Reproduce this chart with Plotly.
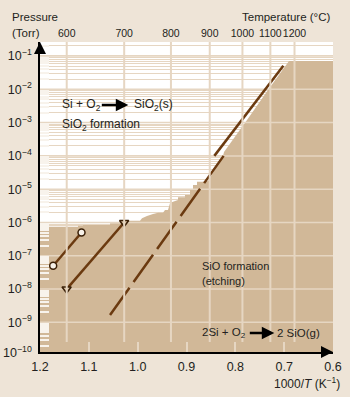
import plotly.graph_objects as go

# ---------------- data ----------------
x_tickvals = [1.2, 1.1, 1.0, 0.9, 0.8, 0.7, 0.6]
x_ticktext = ["1.2", "1.1", "1.0", "0.9", "0.8", "0.7", "0.6"]
temps_c = [600, 700, 800, 900, 1000, 1100, 1200]
decade_exponents = [-1, -2, -3, -4, -5, -6, -7, -8, -9]

# SiO2 / SiO phase boundary (1000/T, log10 of pressure in Torr)
boundary_x = [1.2000, 1.1816, 1.1816, 1.1222, 1.1222, 1.1120, 1.1120, 1.0566, 1.0566,
              1.0362, 1.0362, 1.0218, 1.0218, 0.9952, 0.9911, 0.9809, 0.9686, 0.9583,
              0.9481, 0.9440, 0.9379, 0.9338, 0.9276, 0.9174, 0.9174, 0.9031, 0.9031,
              0.8928, 0.8928, 0.8867, 0.8867, 0.8785, 0.8785, 0.8682, 0.8559, 0.8252,
              0.8232, 0.7761, 0.7331, 0.6901, 0.6000, 0.6000, 1.2000]
boundary_log10_p = [-6.045, -6.045, -6.126, -6.126, -6.096, -6.096, -6.075, -6.075, -6.024,
                    -6.024, -5.985, -5.985, -5.946, -5.946, -5.874, -5.805, -5.745, -5.706,
                    -5.706, -5.625, -5.625, -5.423, -5.375, -5.324, -5.243, -5.243, -5.174,
                    -5.174, -5.024, -5.024, -4.874, -4.874, -4.775, -4.775, -4.754, -4.003,
                    -3.883, -2.922, -2.021, -1.150, -1.150, -11.0, -11.0]

circle_x = [1.173, 1.115]
circle_p = [5.0e-8, 5.0e-7]
triangle_x = [1.1455, 1.0277]
triangle_p = [1.0e-8, 1.0e-6]
dashed_x = [1.0566, 0.8240]
dashed_p = [1.67e-9, 1.0e-4]
upper_x = [0.8430, 0.7017]
upper_p = [1.0e-4, 5.1e-2]

# ---------------- style ----------------
FONT = "Liberation Sans, Arial, sans-serif"
TXT = "#231f20"
PAPER = "#EEE4D7"
TAN = "#D1B898"
GRID = "#E6D6C2"
BROWN = "#6B3A10"
Y_RANGE = [-9.89, -0.58]
X_RANGE = [1.2, 0.6]

minor_vals = []
for e in decade_exponents + [-10]:
    for m in range(2, 10):
        minor_vals.append(m * 10.0 ** e)

fig = go.Figure()

# tan region (SiO formation)
fig.add_trace(go.Scatter(
    x=boundary_x, y=[10 ** v for v in boundary_log10_p],
    fill="toself", fillcolor=TAN, mode="none", hoverinfo="skip", showlegend=False))

# decade grid lines above the tan fill
gx, gy = [], []
for e in decade_exponents:
    gx += [X_RANGE[0], X_RANGE[1], None]
    gy += [10.0 ** e, 10.0 ** e, None]
fig.add_trace(go.Scatter(x=gx, y=gy, mode="lines", line=dict(color=GRID, width=1.5),
                         hoverinfo="skip", showlegend=False))

# temperature grid lines (on top axis)
temp_x = [1000.0 / (t + 273.15) for t in temps_c]
y_lo = 10 ** (Y_RANGE[0] + 10 / 310 * (Y_RANGE[1] - Y_RANGE[0]))
vx, vy = [], []
for xv in temp_x:
    vx += [xv, xv, None]
    vy += [y_lo, 10.0, None]
fig.add_trace(go.Scatter(x=vx, y=vy, xaxis="x2", mode="lines",
                         line=dict(color=GRID, width=2), hoverinfo="skip", showlegend=False))

# data lines
fig.add_trace(go.Scatter(x=dashed_x, y=dashed_p, mode="lines",
                         line=dict(color=BROWN, width=2.5, dash="33.5px,7px"),
                         hoverinfo="skip", showlegend=False))
fig.add_trace(go.Scatter(x=upper_x, y=upper_p, mode="lines",
                         line=dict(color=BROWN, width=2.5),
                         hoverinfo="skip", showlegend=False))
fig.add_trace(go.Scatter(x=triangle_x, y=triangle_p, mode="lines+markers",
                         line=dict(color=BROWN, width=2.5),
                         marker=dict(symbol="triangle-down", size=8, color="#D9C3A5",
                                     line=dict(color="#3a2008", width=1.5)),
                         hoverinfo="skip", showlegend=False))
fig.add_trace(go.Scatter(x=circle_x, y=circle_p, mode="lines+markers",
                         line=dict(color=BROWN, width=2.5),
                         marker=dict(symbol="circle", size=7, color="#F7F1E8",
                                     line=dict(color="#3a2008", width=1.5)),
                         hoverinfo="skip", showlegend=False))

y_tickvals = [10.0 ** e for e in decade_exponents]
y_ticktext = ["10<sup>\u2212%d</sup>" % (-e) for e in decade_exponents]

fig.update_layout(
    width=350, height=397,
    margin=dict(l=40, r=17, t=42, b=45, pad=0),
    paper_bgcolor=PAPER, plot_bgcolor="white",
    font=dict(family=FONT, color=TXT, size=12),
    xaxis=dict(range=X_RANGE, tickvals=x_tickvals, ticktext=x_ticktext, ticks="",
               showgrid=False, zeroline=False, showline=True, linecolor="black",
               linewidth=1.5, tickfont=dict(size=12.5, family=FONT, color=TXT),
               ticklabelstandoff=2, automargin=False, tickangle=0,
               minor=dict(tickmode="array", tickvals=[1.1, 1.0, 0.9, 0.8, 0.7],
                          ticks="inside", ticklen=10, tickcolor=GRID, tickwidth=1.5,
                          showgrid=False)),
    xaxis2=dict(range=X_RANGE, overlaying="x", side="top", tickvals=temp_x,
                ticktext=[str(t) for t in temps_c], ticks="", showgrid=False,
                showline=False, zeroline=False, automargin=False, tickangle=0,
                ticklabelstandoff=2,
                tickfont=dict(size=10.5, family=FONT, color=TXT)),
    yaxis=dict(type="log", range=Y_RANGE, tickvals=y_tickvals, ticktext=y_ticktext,
               ticks="", showgrid=True, gridcolor=GRID, gridwidth=1,
               showline=True, linecolor="black", linewidth=1.5, zeroline=False,
               automargin=False,
               tickfont=dict(size=12.5, family=FONT, color=TXT), ticklabelstandoff=4,
               minor=dict(tickmode="array", tickvals=minor_vals, ticks="inside",
                          ticklen=9, tickcolor="#F8F3EC", tickwidth=1.5,
                          showgrid=True, gridcolor=GRID, gridwidth=1)),
)

ann = []
def txt(x, y, s, xa="left", size=12):
    ann.append(dict(xref="paper", yref="paper", x=x, y=y, text=s, showarrow=False,
                    xanchor=xa, yanchor="middle", font=dict(size=size, family=FONT, color=TXT)))

txt(-0.1024, 1.0806, "Pressure", size=11.5)
txt(-0.1024, 1.029, "(Torr)", size=11.5)
txt(0.9966, 1.0806, "Temperature (\u00b0C)", xa="right", size=11.5)
txt(0.911, -0.100, "1000/<i>T</i> (K<sup>\u22121</sup>)", xa="center", size=12)
txt(-0.0205, 0.0, "10<sup>\u221210</sup>", xa="right", size=12.5)
txt(0.0683, 0.7968, "Si + O<sub>2</sub>", size=12)
txt(0.313, 0.7968, "SiO<sub>2</sub>(s)", size=12)
txt(0.0683, 0.7323, "SiO<sub>2</sub> formation", size=12)
txt(0.546, 0.2774, "SiO formation", size=11)
txt(0.546, 0.229, "(etching)", size=11)
txt(0.546, 0.0613, "2Si + O<sub>2</sub>", size=11.5)
txt(0.802, 0.0613, "2 SiO(g)", size=11.5)

def arrow(x, y, ax, ay, w, size=1.0):
    ann.append(dict(xref="paper", yref="paper", x=x, y=y, ax=ax, ay=ay, text="",
                    showarrow=True, arrowhead=2, arrowsize=size, arrowwidth=w,
                    arrowcolor="black", standoff=0, startstandoff=0))

arrow(0.3014, 0.7968, -28, 0, 2.5)
arrow(0.7997, 0.0613, -26, 0, 2.5)
arrow(0.0, 1.0, 0, 12, 1.5, 1.6)
arrow(1.0, 0.0, -12, 0, 1.5, 1.6)

fig.update_layout(annotations=ann)
fig.write_html("out.html", config={"displayModeBar": False},
               post_script="document.body.style.margin='0px';document.body.style.padding='0px';")
